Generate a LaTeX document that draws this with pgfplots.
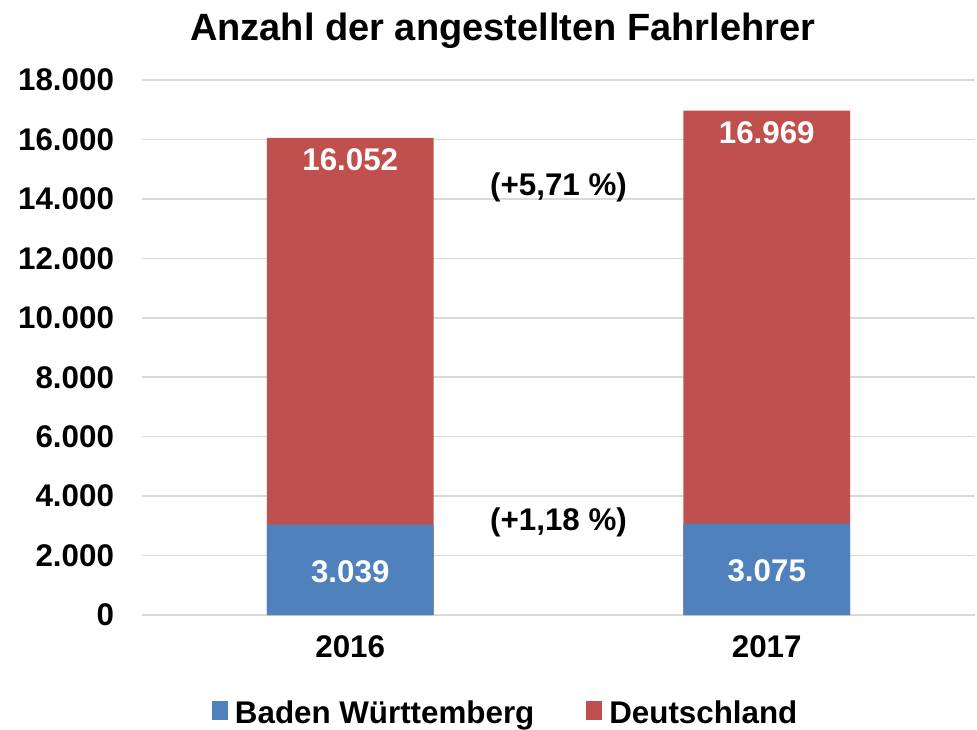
\documentclass[border=0pt]{standalone}
\usepackage{pgfplots}
\pgfplotsset{compat=1.18}
\usepackage{fontspec}
\setmainfont{Liberation Sans}
\definecolor{bwblue}{HTML}{4F81BD}
\definecolor{dered}{HTML}{C0504D}
\definecolor{gridgray}{HTML}{D9D9D9}
\newcommand{\bigf}{\bfseries\fontsize{23.5}{26}\selectfont}
\begin{document}
\begin{tikzpicture}
\begin{axis}[
  scale only axis,
  width=624.75pt, height=401.25pt,
  xmin=-0.5, xmax=1.5,
  ymin=0, ymax=18000,
  xtick={0,1}, xticklabels={2016,2017},
  ytick={0,2000,...,18000},
  scaled y ticks=false,
  /pgf/number format/.cd, fixed, 1000 sep={.}, assume math mode=true, /pgfplots/.cd,
  ymajorgrids, grid style={gridgray, line width=1.2pt},
  axis line style={draw=none},
  major tick length=0pt,
  ticklabel style={font=\bigf},
  yticklabel style={xshift=-17.5pt},
  xticklabel style={yshift=-12pt},
  title={Anzahl der angestellten Fahrlehrer},
  title style={font=\bfseries\fontsize{28.5}{30}\selectfont, at={(0.433,1)}, anchor=center, yshift=31pt},
  legend style={at={(0.437,0)}, anchor=center, yshift=-73.5pt, draw=none, fill=none,
    font=\bigf, legend cell align=left,
    /tikz/every even column/.append style={column sep=37pt}},
  legend columns=2,
  clip=false,
]
\addlegendimage{legend image code/.code={\fill[bwblue] (0pt,-5pt) rectangle (11pt,9pt); \path[draw=none,fill=none] (0pt,0pt) rectangle (15pt,1pt);}}
\addlegendentry{Baden Württemberg}
\addlegendimage{legend image code/.code={\fill[dered] (0pt,-5pt) rectangle (11pt,9pt); \path[draw=none,fill=none] (0pt,0pt) rectangle (15pt,1pt);}}
\addlegendentry{Deutschland}
\addplot[ybar, bar width=0.4, bar shift=0pt, fill=dered, draw=none, forget plot,
  nodes near coords, nodes near coords style={font=\bigf, text=white, anchor=center, yshift=-16.5pt}]
  coordinates {(0,16052) (1,16969)};
\addplot[ybar, bar width=0.4, bar shift=0pt, fill=bwblue, draw=none, forget plot,
  nodes near coords, nodes near coords style={font=\bigf, text=white, anchor=center, yshift=-35pt}]
  coordinates {(0,3039) (1,3075)};
\node[font=\bigf] at (axis cs:0.5,14400) {(+5,71 \%)};
\node[font=\bigf] at (axis cs:0.5,3130) {(+1,18 \%)};
\coordinate (bl) at (rel axis cs:0,0);
\end{axis}
\pgfresetboundingbox
\path (bl) ++(-106.5pt,-85.5pt) rectangle ++(732.75pt,546.75pt);
\end{tikzpicture}
\end{document}
